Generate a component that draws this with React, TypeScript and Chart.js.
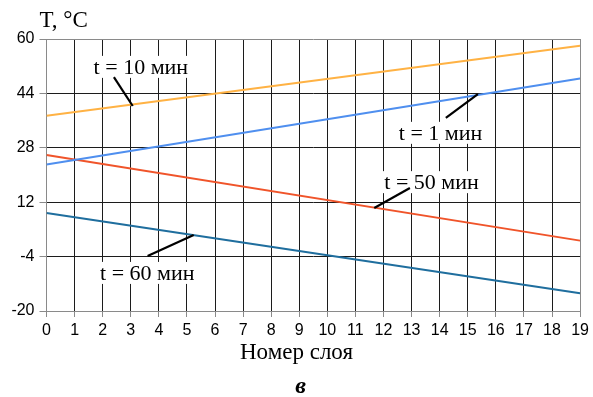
import { useEffect, useRef } from "react";
import { Chart, registerables } from "chart.js";

Chart.register(...registerables);

// Layer number (x) endpoints and temperatures (°C)
const layerNumbers = [0, 19];
const t1Values = [23.1, 48.4];
const t10Values = [37.4, 58.0];
const t50Values = [25.9, 0.7];
const t60Values = [8.8, -14.8];

const seriesNames = ["t = 1 мин", "t = 10 мин", "t = 50 мин", "t = 60 мин"];
const seriesColors = ["#4F8FEF", "#FFB244", "#F0542A", "#1F6E9E"];

const xMin = 0;
const xMax = 19;
const yMin = -20;
const yMax = 60;
const yStep = 16;

const yTitle = "T, °C";
const xTitle = "Номер слоя";
const panelLetter = "в";

// Callouts in data coordinates: label centre, leader start, leader end
const callouts = [
  { text: "t = 10 мин", at: [3.36, 51.8], from: [2.4, 48.8], to: [3.07, 40.3] },
  { text: "t = 1 мин", at: [14.03, 32.4], from: [14.22, 36.8], to: [15.36, 43.8] },
  { text: "t = 50 мин", at: [13.71, 17.9], from: [11.67, 10.3], to: [12.94, 16.2] },
  { text: "t = 60 мин", at: [3.59, -8.8], from: [3.6, -3.8], to: [5.24, 2.35] },
];

const SERIF = "'Liberation Serif', 'Times New Roman', serif";
const SANS = "'Liberation Sans', Arial, sans-serif";

export default function App() {
  const ref = useRef<HTMLCanvasElement | null>(null);

  useEffect(() => {
    if (!ref.current) return;
    const seriesValues = [t1Values, t10Values, t50Values, t60Values];

    const annotate = {
      id: "annotate",
      afterDatasetsDraw(chart: any) {
        const { ctx, scales, chartArea, width } = chart;
        const xs = scales.x;
        const ys = scales.y;
        ctx.save();
        ctx.font = `22px ${SERIF}`;
        ctx.textBaseline = "middle";
        ctx.textAlign = "center";
        for (const c of callouts) {
          const cx = xs.getPixelForValue(c.at[0]);
          const cy = ys.getPixelForValue(c.at[1]);
          const w = ctx.measureText(c.text).width;
          ctx.fillStyle = "#ffffff";
          ctx.fillRect(cx - w / 2 - 2, cy - 11, w + 4, 22);
          ctx.strokeStyle = "#000000";
          ctx.lineWidth = 2.2;
          ctx.beginPath();
          ctx.moveTo(xs.getPixelForValue(c.from[0]), ys.getPixelForValue(c.from[1]));
          ctx.lineTo(xs.getPixelForValue(c.to[0]), ys.getPixelForValue(c.to[1]));
          ctx.stroke();
          ctx.fillStyle = "#000000";
          ctx.fillText(c.text, cx, cy + 1);
        }
        // axis titles
        ctx.fillStyle = "#000000";
        ctx.font = `23px ${SERIF}`;
        ctx.textAlign = "left";
        ctx.fillText(yTitle, chartArea.left - 7, chartArea.top - 18);
        ctx.textAlign = "center";
        ctx.fillText(xTitle, width / 2, chartArea.bottom + 42);
        ctx.font = `italic bold 24px ${SERIF}`;
        ctx.fillText(panelLetter, width / 2 + 4, chartArea.bottom + 76);
        ctx.restore();
      },
    };

    const gridColor = (c: any) => {
      const v = c.tick ? c.tick.value : null;
      if (v === yMin || v === yMax || v === xMin || v === xMax) return "#8a8a8a";
      return "#1c1c1c";
    };

    const chart = new Chart(ref.current, {
      type: "line",
      data: {
        datasets: seriesNames.map((name, i) => ({
          label: name,
          data: layerNumbers.map((x, j) => ({ x, y: seriesValues[i][j] })),
          borderColor: seriesColors[i],
          backgroundColor: seriesColors[i],
          borderWidth: 2,
          pointRadius: 0,
          tension: 0,
          fill: false,
        })),
      },
      options: {
        responsive: true,
        maintainAspectRatio: false,
        animation: false,
        layout: { padding: { left: 0, right: 12, top: 39, bottom: 0 } },
        plugins: {
          legend: { display: false },
          tooltip: { enabled: false },
          title: { display: false },
        },
        scales: {
          x: {
            type: "linear",
            min: xMin,
            max: xMax,
            ticks: {
              stepSize: 1,
              color: "#000000",
              font: { family: SANS, size: 16 },
              padding: 4,
              maxRotation: 0,
              autoSkip: false,
            },
            grid: {
              color: gridColor,
              tickColor: "#8a8a8a",
              tickLength: 6,
              lineWidth: 1,
            },
            border: { color: "#8a8a8a" },
            afterFit: (s: any) => {
              s.height = 86;
            },
          },
          y: {
            type: "linear",
            min: yMin,
            max: yMax,
            ticks: {
              stepSize: yStep,
              color: "#000000",
              font: { family: SANS, size: 16 },
              padding: 5,
            },
            grid: {
              color: gridColor,
              tickColor: "#8a8a8a",
              tickLength: 7,
              lineWidth: 1,
            },
            border: { color: "#8a8a8a" },
            afterFit: (s: any) => {
              s.width = 46.5;
            },
          },
        },
      },
      plugins: [annotate],
    });

    return () => chart.destroy();
  }, []);

  return (
    <div
      style={{
        position: "absolute",
        left: 0,
        top: 0,
        width: 593,
        height: 397,
        background: "#ffffff",
      }}
    >
      <canvas ref={ref} />
    </div>
  );
}
